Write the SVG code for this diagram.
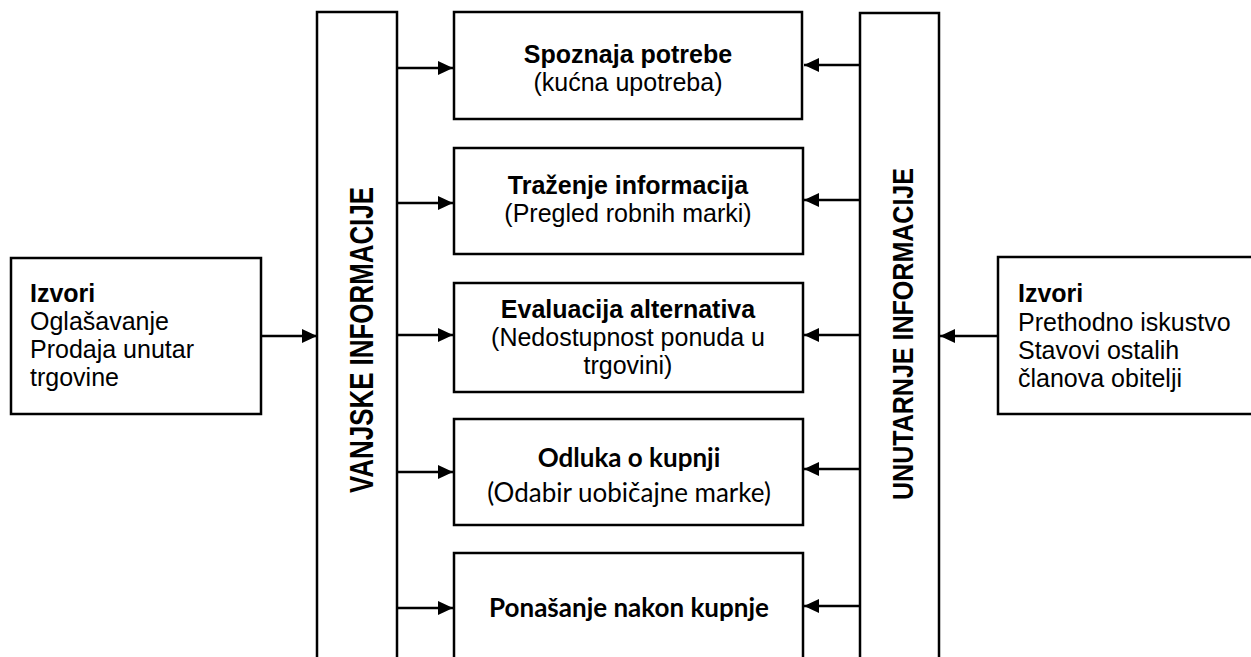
<svg xmlns="http://www.w3.org/2000/svg" width="1251" height="657" viewBox="0 0 1251 657">
<style>
.box{fill:#fff;stroke:#000;stroke-width:2.5}
.ln{stroke:#000;stroke-width:2.5;fill:none}
.t{font-family:"Liberation Sans",Arial,sans-serif;font-size:25px;fill:#000}
.b{font-weight:bold}
.c{font-family:Lato,"Liberation Sans",sans-serif;font-size:26px;fill:#000}
.m{text-anchor:middle}
.v{font-family:"Liberation Sans",Arial,sans-serif;font-weight:bold;fill:#000;text-anchor:middle}
</style>
<defs>
<marker id="ah" markerUnits="userSpaceOnUse" markerWidth="16" markerHeight="14" refX="15" refY="7" orient="auto">
<path d="M0,0 L15,7 L0,14 Z" fill="#000"/>
</marker>
</defs>
<rect width="1251" height="657" fill="#fff"/>
<g id="src-left">
<rect class="box" x="11" y="258" width="250" height="156"/>
<text class="t b" x="30" y="302">Izvori</text>
<text class="t" x="30" y="330">Oglašavanje</text>
<text class="t" x="30" y="358">Prodaja unutar</text>
<text class="t" x="30" y="386">trgovine</text>
</g>
<g id="col-left">
<rect class="box" x="317" y="12" width="80" height="660"/>
<text class="v" font-size="33" textLength="306" lengthAdjust="spacingAndGlyphs" transform="translate(373,340) rotate(-90)">VANJSKE INFORMACIJE</text>
</g>
<g id="col-right">
<rect class="box" x="860" y="13" width="79" height="660"/>
<text class="v" font-size="30" textLength="332" lengthAdjust="spacingAndGlyphs" transform="translate(913,334) rotate(-90)">UNUTARNJE INFORMACIJE</text>
</g>
<g id="src-right">
<rect class="box" x="998" y="257" width="270" height="157"/>
<text class="t b" x="1018" y="302">Izvori</text>
<text class="t" x="1018" y="331">Prethodno iskustvo</text>
<text class="t" x="1018" y="359">Stavovi ostalih</text>
<text class="t" x="1018" y="387">članova obitelji</text>
</g>
<g id="n1">
<rect class="box" x="454" y="12" width="348" height="107"/>
<text class="t b m" x="628" y="63">Spoznaja potrebe</text>
<text class="t m" x="628" y="91">(kućna upotreba)</text>
</g>
<g id="n2">
<rect class="box" x="454" y="148" width="349" height="106"/>
<text class="t b m" x="628" y="194">Traženje informacija</text>
<text class="t m" x="628" y="222">(Pregled robnih marki)</text>
</g>
<g id="n3">
<rect class="box" x="454" y="283" width="349" height="109"/>
<text class="t b m" x="628" y="318">Evaluacija alternativa</text>
<text class="t m" x="628" y="346">(Nedostupnost ponuda u</text>
<text class="t m" x="628" y="374">trgovini)</text>
</g>
<g id="n4">
<rect class="box" x="454" y="419" width="349" height="106"/>
<text class="c b m" x="629" y="467">Odluka o kupnji</text>
<text class="c m" x="629" y="502">(Odabir uobičajne marke)</text>
</g>
<g id="n5">
<rect class="box" x="454" y="553" width="349" height="120"/>
<text class="c b m" x="629" y="617">Ponašanje nakon kupnje</text>
</g>
<g id="connectors">
<line class="ln" x1="261" y1="336" x2="317" y2="336" marker-end="url(#ah)"/>
<line class="ln" x1="998" y1="336" x2="940" y2="336" marker-end="url(#ah)"/>
<line class="ln" x1="397" y1="68" x2="453" y2="68" marker-end="url(#ah)"/>
<line class="ln" x1="397" y1="203" x2="453" y2="203" marker-end="url(#ah)"/>
<line class="ln" x1="397" y1="335" x2="453" y2="335" marker-end="url(#ah)"/>
<line class="ln" x1="397" y1="472" x2="453" y2="472" marker-end="url(#ah)"/>
<line class="ln" x1="397" y1="608" x2="453" y2="608" marker-end="url(#ah)"/>
<line class="ln" x1="860" y1="65" x2="804" y2="65" marker-end="url(#ah)"/>
<line class="ln" x1="860" y1="200" x2="804" y2="200" marker-end="url(#ah)"/>
<line class="ln" x1="860" y1="335" x2="804" y2="335" marker-end="url(#ah)"/>
<line class="ln" x1="860" y1="469" x2="804" y2="469" marker-end="url(#ah)"/>
<line class="ln" x1="860" y1="606" x2="804" y2="606" marker-end="url(#ah)"/>
</g>
</svg>
